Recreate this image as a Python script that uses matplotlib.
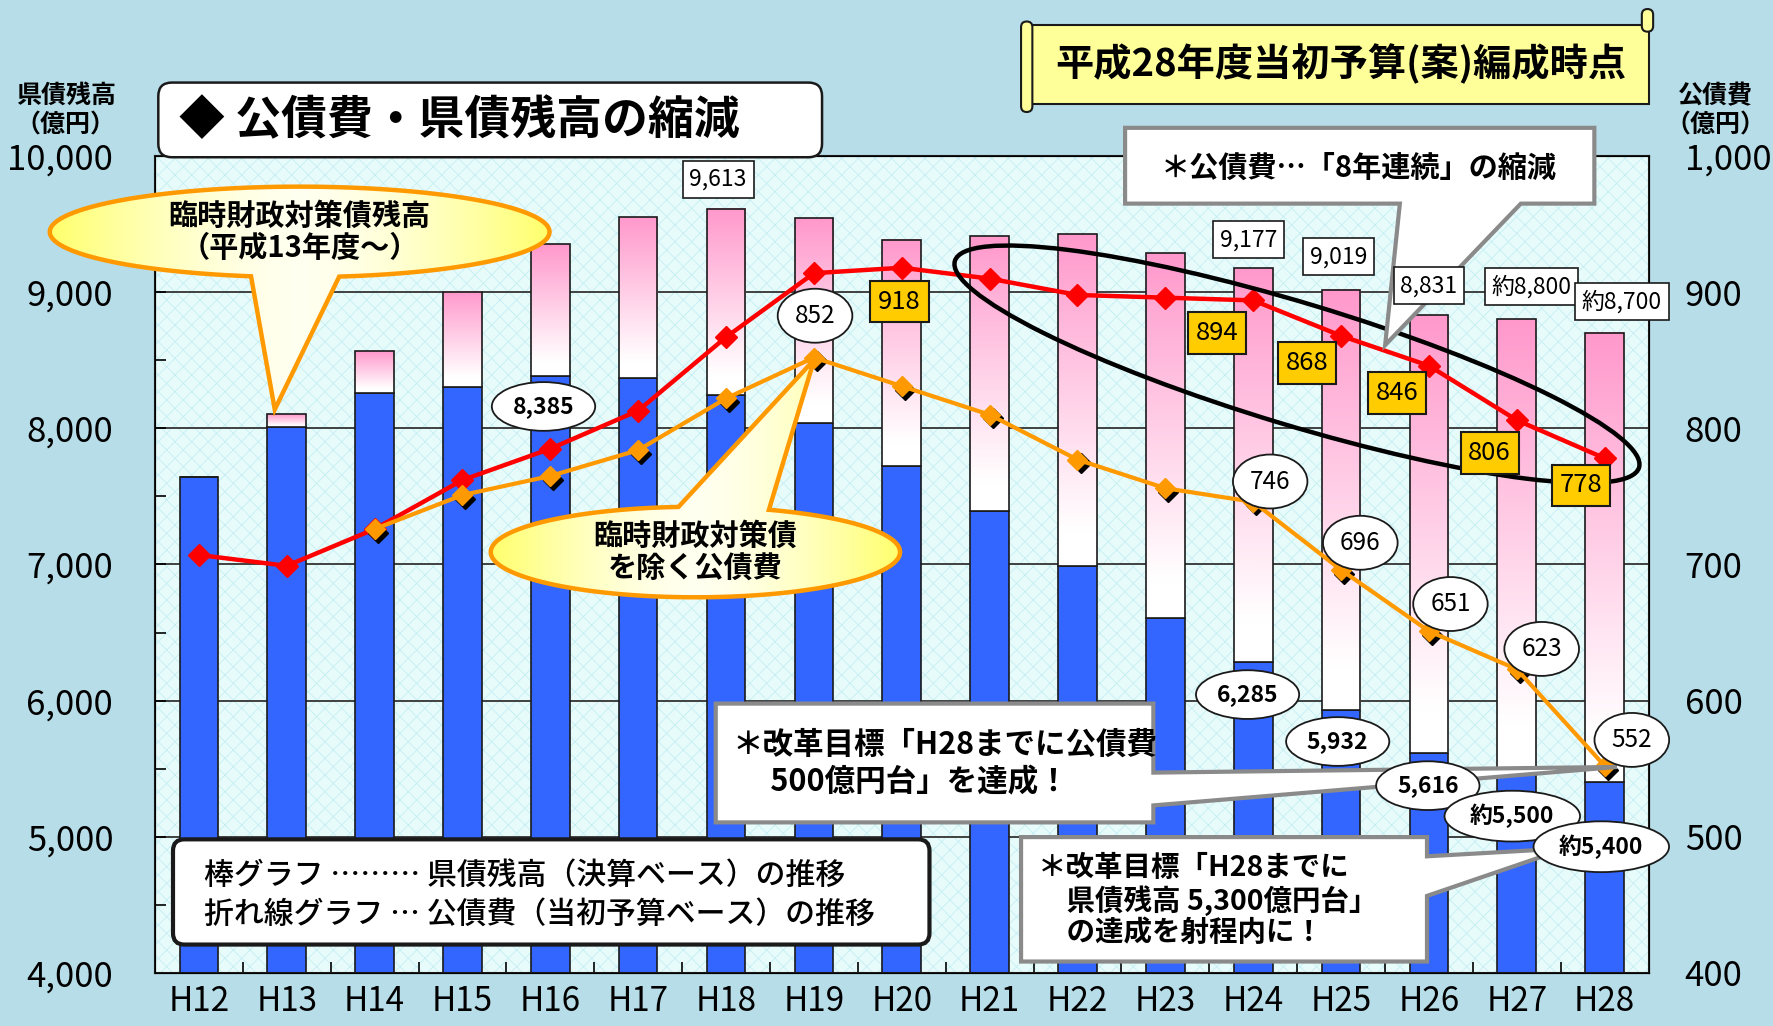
import matplotlib
matplotlib.use('Agg')
import matplotlib.pyplot as plt
import numpy as np
from matplotlib.patches import Rectangle, Ellipse, Polygon, FancyBboxPatch
from matplotlib.transforms import offset_copy

plt.rcParams['font.family'] = ['Noto Sans CJK JP', 'DejaVu Sans']
plt.rcParams['hatch.linewidth'] = 0.6

# ---- data -------------------------------------------------------------
years = ['H12', 'H13', 'H14', 'H15', 'H16', 'H17', 'H18', 'H19', 'H20',
         'H21', 'H22', 'H23', 'H24', 'H25', 'H26', 'H27', 'H28']
# 県債残高 (total) and 県債残高 excluding 臨時財政対策債 (blue part)
debt_total = [7640, 8105, 8570, 9002, 9352, 9551, 9613, 9543, 9385,
              9410, 9426, 9285, 9177, 9019, 8831, 8800, 8700]
debt_excl = [7640, 8013, 8263, 8304, 8385, 8371, 8246, 8038, 7722,
             7390, 6991, 6608, 6285, 5932, 5616, 5500, 5400]
# 公債費 (red) and 公債費 excluding 臨時財政対策債 (orange)
cost_total = [707, 699, 726, 762, 785, 813, 867, 914, 918,
              910, 898, 896, 894, 868, 846, 806, 778]
cost_excl = [np.nan, np.nan, 726, 751, 765, 784, 822, 852, 831,
             810, 777, 756, 746, 696, 651, 623, 552]

top_lbl_idx = [6, 12, 13, 14, 15, 16]
top_lbl_txt = ['9,613', '9,177', '9,019', '8,831', '約8,800', '約8,700']
blue_lbl_idx = [4, 12, 13, 14, 15, 16]
blue_lbl_txt = ['8,385', '6,285', '5,932', '5,616', '約5,500', '約5,400']
red_lbl_idx = [8, 12, 13, 14, 15, 16]
red_lbl_txt = ['918', '894', '868', '846', '806', '778']
orange_lbl_idx = [7, 12, 13, 14, 15, 16]
orange_lbl_txt = ['852', '746', '696', '651', '623', '552']

# label offsets (reference pixels, +y = up)
top_off = [(-7, 26), (-4, 25), (-2, 29), (0, 26), (13, 29), (15, 28)]
blue_off = [(-6, -27), (-5, -29), (-3, -28), (-1, -29), (-4, -42), (-3, -57)]
red_off = [(-2, -30), (-32, -29), (-30, -24), (-28, -24), (-24, -29), (-21, -24)]
orange_off = [(1, 37), (15, 18), (17, 24), (19, 24), (22, 18), (24, 23)]

W, H = 1568, 907          # reference layout units
PT = 1773 / W * 0.72      # points per reference pixel

BG = '#b7dde8'
PINK = np.array([1.0, 0.6, 0.8])
BLUE = '#3366ff'

fig = plt.figure(figsize=(17.73, 10.26), dpi=100, facecolor=BG)
ax = fig.add_axes([137 / W, 1 - 860 / H, (1458 - 137) / W, (860 - 138) / H])
x = np.arange(len(years))

ax.set_facecolor('#e8fbfb')
ax.add_patch(Rectangle((0, 0), 1, 1, transform=ax.transAxes, facecolor='#e8fbfb',
                       edgecolor='#c4eef2', hatch='xx', lw=0, zorder=0))
ax.yaxis.grid(True, color='#333333', lw=1.3)
ax.set_axisbelow(True)

bw = 0.44
ax.bar(x, debt_excl, width=bw, color=BLUE, edgecolor='#1a1a1a', lw=1.2, zorder=2)
for i in x:
    top, bot = debt_total[i], debt_excl[i]
    if top - bot < 1:
        continue
    t = np.linspace(1, 0, 100)
    f = np.clip((t - 0.1) / 0.9, 0, 1)[:, None, None]
    grad = (1 - f) * np.ones(3) + f * PINK
    ax.imshow(grad, extent=(i - bw / 2, i + bw / 2, bot, top), origin='upper',
              aspect='auto', interpolation='bilinear', zorder=2)
ax.bar(x, np.array(debt_total) - np.array(debt_excl), bottom=debt_excl, width=bw,
       fill=False, edgecolor='#1a1a1a', lw=1.2, zorder=2.5)

ax.set_xlim(-0.5, len(years) - 0.5)
ax.set_ylim(4000, 10000)
ax.set_yticks(range(4000, 10001, 1000))
ax.set_yticklabels([f'{v:,}' for v in range(4000, 10001, 1000)], fontsize=25)
ax.set_yticks(range(4500, 10000, 1000), minor=True)
ax.set_xticks(x)
ax.set_xticklabels(years, fontsize=24)
ax.set_xticks(x[:-1] + 0.5, minor=True)
ax.tick_params(axis='x', which='major', length=0, pad=8)
ax.tick_params(axis='x', which='minor', direction='in', length=8, width=1.2)
ax.tick_params(axis='y', which='both', direction='in', length=8, width=1.2, pad=30)
for s in ax.spines.values():
    s.set_color('#1a1a1a')
    s.set_linewidth(1.5)

ax2 = ax.twinx()
ax2.set_ylim(400, 1000)
ax2.set_yticks(range(400, 1001, 100))
ax2.set_yticklabels([f'{v:,}' for v in range(400, 1001, 100)], fontsize=25)
ax2.tick_params(axis='y', direction='in', length=0, pad=26)

ax2.plot(x, cost_total, color='#ff0000', lw=3.2, marker='D', ms=11, zorder=3)
shadow = offset_copy(ax2.transData, fig=fig, x=2.2, y=-2.6, units='points')
ax2.plot(x, cost_excl, color='black', lw=0, marker='D', ms=10, transform=shadow, zorder=3)
ax2.plot(x, cost_excl, color='#ff9900', lw=3.0, marker='D', ms=10, zorder=4)

# ---- overlay in reference pixel coordinates ----------------------------
ov = fig.add_axes([0, 0, 1, 1])
ov.set_zorder(10)
ov.axis('off')

# axis titles
ov.text(58, 98, '県債残高\n（億円）', ha='center', va='center', fontsize=18,
        fontweight='bold', linespacing=1.3)
ov.text(1517, 98, '公債費\n（億円）', ha='center', va='center', fontsize=18,
        fontweight='bold', linespacing=1.3)

# title box
ov.add_patch(FancyBboxPatch((140, 73), 587, 66, boxstyle='round,pad=0,rounding_size=12',
                            fc='white', ec='#1a1a1a', lw=1.8))
ov.text(158, 107, '◆ 公債費・県債残高の縮減', ha='left', va='center', fontsize=33,
        fontweight='bold')

# scroll banner
ov.add_patch(Rectangle((910, 22), 548, 70, fc='#ffff99', ec='#1a1a1a', lw=1.5))
ov.add_patch(FancyBboxPatch((903, 19), 10, 80, boxstyle='round,pad=0,rounding_size=5',
                            fc='#ffff99', ec='#1a1a1a', lw=1.5))
ov.add_patch(FancyBboxPatch((1452, 8), 10, 20, boxstyle='round,pad=0,rounding_size=5',
                            fc='#ffff99', ec='#1a1a1a', lw=1.5))
ov.text(1186, 57, '平成28年度当初予算(案)編成時点', ha='center', va='center',
        fontsize=27.5, fontweight='bold')


def bubble(cx, cy, a, b, x1, x2, tip, side):
    c1 = np.arccos(np.clip((x1 - cx) / a, -1, 1))
    c2 = np.arccos(np.clip((x2 - cx) / a, -1, 1))
    if side == 'bottom':
        ta, tb = sorted([c1, c2])
    else:
        ta, tb = sorted([2 * np.pi - c1, 2 * np.pi - c2])
    t = np.linspace(tb, ta + 2 * np.pi, 240)
    pts = np.column_stack([cx + a * np.cos(t), cy + b * np.sin(t)])
    pts = np.vstack([[tip], pts])
    patch = Polygon(pts, closed=True, fc='none', ec='#ff9900', lw=3.2, zorder=4)
    ov.add_patch(patch)
    u = np.abs(np.linspace(-1, 1, 300)) ** 1.6
    g = (1 - u)[None, :, None] * np.array([1, 1, 0.94]) + u[None, :, None] * np.array([1, 1, 0.42])
    img = ov.imshow(g, extent=(cx - a, cx + a, pts[:, 1].max(), pts[:, 1].min()),
                    aspect='auto', zorder=3, interpolation='bilinear')
    img.set_clip_path(patch)


bubble(265, 205, 221, 40, 222, 300, (243, 362), 'bottom')
ov.text(265, 205, '臨時財政対策債残高\n（平成13年度～）', ha='center', va='center',
        fontsize=21, fontweight='bold', linespacing=1.1, zorder=5)
bubble(615, 488, 181, 40, 600, 680, (720, 318), 'top')
ov.text(615, 488, '臨時財政対策債\nを除く公債費', ha='center', va='center',
        fontsize=21, fontweight='bold', linespacing=1.1, zorder=5)

# black ellipse around the 公債費 decrease
ov.add_patch(Ellipse((1147, 322), 632, 108, angle=16.8, fill=False, ec='black', lw=3.2))

# callout boxes with pointers
GRAY = '#8a8a8a'
ov.add_patch(Polygon([(995, 113), (1410, 113), (1410, 180), (1345, 180), (1225, 305),
                      (1238, 180), (995, 180)], closed=True, fc='white', ec=GRAY, lw=3))
ov.text(1202, 148, '＊公債費…「8年連続」の縮減', ha='center', va='center', fontsize=21,
        fontweight='bold')

ov.add_patch(Polygon([(633, 622), (1020, 622), (1020, 683), (1430, 678), (1020, 712),
                      (1020, 727), (633, 727)], closed=True, fc='white', ec=GRAY, lw=3))
ov.text(648, 675, '＊改革目標「H28までに公債費\n　 500億円台」を達成！', ha='left', va='center',
        fontsize=22, fontweight='bold', linespacing=1.2)

ov.add_patch(Polygon([(903, 740), (1262, 740), (1262, 757), (1385, 750), (1262, 792),
                      (1262, 850), (903, 850)], closed=True, fc='white', ec=GRAY, lw=3))
ov.text(918, 796, '＊改革目標「H28までに\n　県債残高 5,300億円台」\n　の達成を射程内に！',
        ha='left', va='center', fontsize=20.5, fontweight='bold', linespacing=1.12)

# legend box
ov.add_patch(FancyBboxPatch((153, 742), 669, 93, boxstyle='round,pad=0,rounding_size=10',
                            fc='white', ec='#1a1a1a', lw=3))
ov.text(180, 775, '棒グラフ ……… 県債残高（決算ベース）の推移', ha='left', va='center',
        fontsize=21.5, fontweight='medium')
ov.text(180, 808, '折れ線グラフ … 公債費（当初予算ベース）の推移', ha='left', va='center',
        fontsize=21.5, fontweight='medium')

# ---- value labels (on top of callouts) ---------------------------------
for i, s, (dx, dy) in zip(top_lbl_idx, top_lbl_txt, top_off):
    ov.annotate(s, (i, debt_total[i]), xycoords=ax.transData, xytext=(dx * PT, dy * PT),
                textcoords='offset points', ha='center', va='center', fontsize=16.5, zorder=6,
                bbox=dict(boxstyle='square,pad=0.3', fc='white', ec='#1a1a1a', lw=1.2))
for i, s, (dx, dy) in zip(blue_lbl_idx, blue_lbl_txt, blue_off):
    ov.annotate(s, (i, debt_excl[i]), xycoords=ax.transData, xytext=(dx * PT, dy * PT),
                textcoords='offset points', ha='center', va='center', fontsize=16.5,
                fontweight='bold', zorder=6,
                bbox=dict(boxstyle='ellipse,pad=0.25', fc='white', ec='#1a1a1a', lw=1.3))
for i, s, (dx, dy) in zip(red_lbl_idx, red_lbl_txt, red_off):
    ov.annotate(s, (i, cost_total[i]), xycoords=ax2.transData, xytext=(dx * PT, dy * PT),
                textcoords='offset points', ha='center', va='center', fontsize=18.5, zorder=6,
                bbox=dict(boxstyle='square,pad=0.3', fc='#ffcc00', ec='#1a1a1a', lw=1.5))
for i, s, (dx, dy) in zip(orange_lbl_idx, orange_lbl_txt, orange_off):
    ov.annotate(s, (i, cost_excl[i]), xycoords=ax2.transData, xytext=(dx * PT, dy * PT),
                textcoords='offset points', ha='center', va='center', fontsize=17.5, zorder=6,
                bbox=dict(boxstyle='ellipse,pad=0.25', fc='white', ec='#1a1a1a', lw=1.3))

ov.set_xlim(0, W)
ov.set_ylim(H, 0)

fig.savefig('out.png', dpi=100, facecolor=BG)
